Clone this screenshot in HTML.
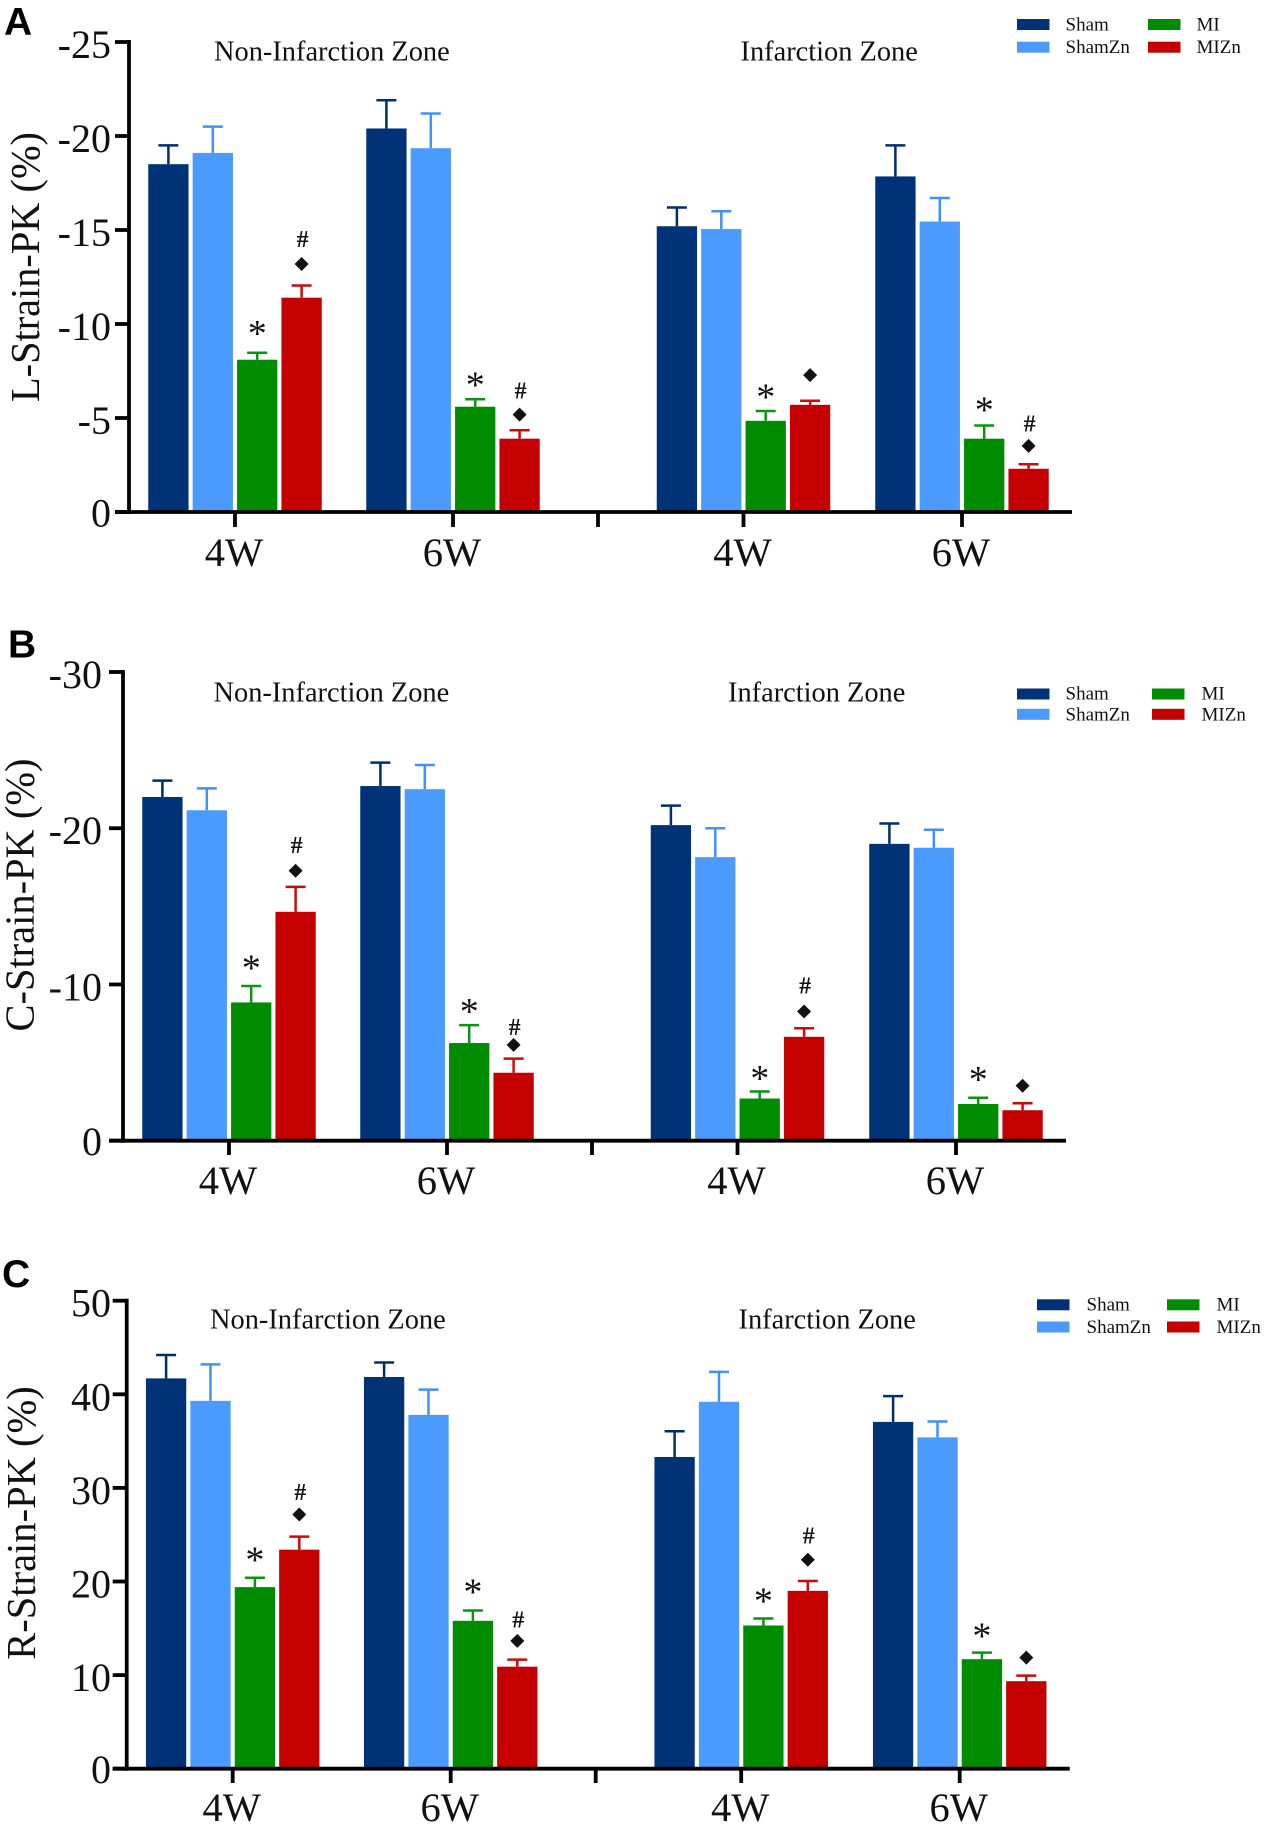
<!DOCTYPE html>
<html lang="en">
<head>
<meta charset="utf-8">
<title>Strain peak charts</title>
<style>
html,body{margin:0;padding:0;background:#fff;width:1265px;height:1829px;overflow:hidden}
svg{display:block}
text{font-family:"Liberation Serif",serif;fill:#111}
</style>
</head>
<body>
<svg id="figure" xmlns="http://www.w3.org/2000/svg" width="1265" height="1829" viewBox="0 0 1265 1829"></svg>
<script>
// Shared labels
const categories = ['4W', '6W', '4W', '6W'];
const seriesNames = ['Sham', 'ShamZn', 'MI', 'MIZn'];
const seriesColors = ['#003278', '#4b9bff', '#008c00', '#c40000'];
const errorColors = ['#002c70', '#3f92f8', '#0a9410', '#cc0a0a'];
const zoneNames = ['Non-Infarction Zone', 'Infarction Zone'];

// Panel A: L-Strain-PK
const aTicks = [0, -5, -10, -15, -20, -25];
const aSham = [-18.5, -20.4, -15.2, -17.85];
const aShamErr = [-19.5, -21.9, -16.2, -19.5];
const aShamZn = [-19.1, -19.35, -15.05, -15.45];
const aShamZnErr = [-20.5, -21.2, -16.0, -16.7];
const aMI = [-8.1, -5.6, -4.85, -3.9];
const aMIErr = [-8.47, -6.0, -5.37, -4.6];
const aMIZn = [-11.4, -3.9, -5.7, -2.3];
const aMIZnErr = [-12.05, -4.35, -5.92, -2.54];
const aStarGap = [1.22, 0.94, 0.94, 1.0];
const aDiamondGap = [1.14, 0.83, 1.36, 0.98];
const aHashGap = [2.4, 2.04, null, 2.1];

// Panel B: C-Strain-PK
const bTicks = [0, -10, -20, -30];
const bSham = [-22.0, -22.7, -20.2, -19.0];
const bShamErr = [-23.05, -24.2, -21.45, -20.3];
const bShamZn = [-21.15, -22.5, -18.15, -18.75];
const bShamZnErr = [-22.55, -24.05, -20.0, -19.9];
const bMI = [-8.85, -6.25, -2.7, -2.35];
const bMIErr = [-9.9, -7.4, -3.15, -2.75];
const bMIZn = [-14.65, -4.35, -6.65, -1.95];
const bMIZnErr = [-16.25, -5.25, -7.2, -2.4];
const bStarGap = [1.37, 1.1, 1.05, 1.39];
const bDiamondGap = [1.03, 0.88, 1.07, 1.12];
const bHashGap = [2.57, 1.93, 2.64, null];

// Panel C: R-Strain-PK
const cTicks = [0, 10, 20, 30, 40, 50];
const cSham = [41.7, 41.85, 33.3, 37.05];
const cShamErr = [44.2, 43.4, 36.05, 39.8];
const cShamZn = [39.3, 37.8, 39.2, 35.4];
const cShamZnErr = [43.2, 40.5, 42.4, 37.1];
const cMI = [19.4, 15.8, 15.3, 11.7];
const cMIErr = [20.4, 16.9, 16.05, 12.4];
const cMIZn = [23.4, 10.9, 19.0, 9.35];
const cMIZnErr = [24.8, 11.65, 20.05, 9.95];
const cStarGap = [2.28, 2.36, 2.24, 2.16];
const cDiamondGap = [2.36, 2.0, 2.28, 1.92];
const cHashGap = [4.59, 4.11, 4.71, null];

const NS = 'http://www.w3.org/2000/svg';
const svg = document.getElementById('figure');

function make(tag, attrs, parent, txt) {
  const el = document.createElementNS(NS, tag);
  for (const k in attrs) el.setAttribute(k, attrs[k]);
  if (txt !== undefined) el.textContent = txt;
  parent.appendChild(el);
  return el;
}

// Layout of a panel, relative to its y axis line
const groupOffsets = [106, 324, 614.5, 833];
const separatorOffset = 469;
const axisLength = 943;
const barWidth = 40.3;
const barPitch = 44.4;
const capWidth = 20;

const panels = [
  {
    id: 'a', letter: 'A', title: 'L-Strain-PK (%)', ticks: aTicks, domainEnd: -25,
    values: [aSham, aShamZn, aMI, aMIZn], errors: [aShamErr, aShamZnErr, aMIErr, aMIZnErr],
    star: aStarGap, diamond: aDiamondGap, hash: aHashGap,
    spine: 129, top: 42, base: 512, tickLeft: 115, labelRight: 111, tickBottom: 527, xLabelY: 566,
    letterX: 4, letterY: 35, titleX: 39, titleMid: 267, titleLen: 270,
    zoneX: [214, 740.5], zoneY: 60.5,
    legendX: [1017, 1148], legendText: [1065.5, 1196.5], legendRows: [19, 41.7], legendBase: [30.6, 52.8]
  },
  {
    id: 'b', letter: 'B', title: 'C-Strain-PK (%)', ticks: bTicks, domainEnd: -30,
    values: [bSham, bShamZn, bMI, bMIZn], errors: [bShamErr, bShamZnErr, bMIErr, bMIZnErr],
    star: bStarGap, diamond: bDiamondGap, hash: bHashGap,
    spine: 123, top: 672, base: 1140.7, tickLeft: 109, labelRight: 102, tickBottom: 1155, xLabelY: 1194,
    letterX: 8, letterY: 657.5, titleX: 33.5, titleMid: 895, titleLen: 273,
    zoneX: [213.5, 728], zoneY: 701.5,
    legendX: [1017, 1152], legendText: [1065.5, 1201.5], legendRows: [688.5, 708.8], legendBase: [699.6, 720.3]
  },
  {
    id: 'c', letter: 'C', title: 'R-Strain-PK (%)', ticks: cTicks, domainEnd: 50,
    values: [cSham, cShamZn, cMI, cMIZn], errors: [cShamErr, cShamZnErr, cMIErr, cMIZnErr],
    star: cStarGap, diamond: cDiamondGap, hash: cHashGap,
    spine: 126.7, top: 1300.7, base: 1768.7, tickLeft: 112.7, labelRight: 111, tickBottom: 1783, xLabelY: 1821,
    letterX: 2, letterY: 1287, titleX: 35, titleMid: 1523, titleLen: 273.5,
    zoneX: [210, 738.5], zoneY: 1328.6,
    legendX: [1037, 1167], legendText: [1086.5, 1216.5], legendRows: [1299.3, 1321.5], legendBase: [1310.6, 1332.8]
  }
];

function drawPanel(p) {
  const g = make('g', {}, svg);
  
  

  const yScale = v => p.base - (v / p.domainEnd) * (p.base - p.top);
  const xCenter = i => p.spine + groupOffsets[i];
  const barLeft = (i, s) => xCenter(i) + (s - 2) * barPitch + (barPitch - barWidth) / 2;
  const dir = Math.sign(p.domainEnd);

  // Panel letter
  const letter = make('text', {
    x: p.letterX, y: p.letterY,
    style: 'font-family:"Liberation Sans",sans-serif;font-weight:bold;font-size:39px;fill:#000'
  }, g, p.letter);
  
  

  // Y axis title
  const yTitle = make('text', {
    x: p.titleX, y: p.titleMid, 'text-anchor': 'middle', 'font-size': 41,
    textLength: p.titleLen, lengthAdjust: 'spacingAndGlyphs',
    transform: 'rotate(-90 ' + p.titleX + ' ' + p.titleMid + ')'
  }, g, p.title);
  
  

  // Zone headings
  zoneNames.forEach((name, z) => {
    const t = make('text', { x: p.zoneX[z], y: p.zoneY, 'font-size': 28.4 }, g, name);
    
    
  });

  // Bars and error bars
  p.values.forEach((vals, s) => {
    vals.forEach((v, i) => {
      const x = barLeft(i, s);
      const yTop = yScale(v);
      const yErr = yScale(p.errors[s][i]);
      const cx = x + barWidth / 2;

      const stem = make('line', { x1: cx, x2: cx, y1: yTop, y2: yErr, stroke: errorColors[s], 'stroke-width': 2.5 }, g);
      
      

      const cap = make('line', { x1: cx - capWidth / 2, x2: cx + capWidth / 2, y1: yErr, y2: yErr, stroke: errorColors[s], 'stroke-width': 2.5 }, g);
      
      

      const bar = make('rect', { x: x, y: yTop, width: barWidth, height: yScale(0) - yTop, fill: seriesColors[s] }, g);
      
      
    });
  });

  // Significance markers
  categories.forEach((c, i) => {
    const miX = barLeft(i, 2) + barWidth / 2;
    const znX = barLeft(i, 3) + barWidth / 2;

    const starY = yScale(p.errors[2][i] + dir * p.star[i]);
    const star = make('text', { x: miX, y: starY + 16, 'text-anchor': 'middle', 'font-size': 38 }, g, '*');
    
    

    const dY = yScale(p.errors[3][i] + dir * p.diamond[i]);
    const pts = [[znX, dY - 7], [znX + 7, dY], [znX, dY + 7], [znX - 7, dY]].map(q => q.join(',')).join(' ');
    const diamond = make('polygon', { points: pts, fill: '#111' }, g);
    
    

    if (p.hash[i] !== null) {
      const hY = yScale(p.errors[3][i] + dir * p.hash[i]);
      const hash = make('text', { x: znX + 1, y: hY + 6.5, 'text-anchor': 'middle', 'font-size': 24, 'font-weight': 'bold' }, g, '#');
      
      
    }
  });

  // Y axis
  const yAxis = make('line', { x1: p.spine, x2: p.spine, y1: p.top - 2, y2: p.base + 2, stroke: '#000', 'stroke-width': 3.8 }, g);
  
  

  p.ticks.forEach(v => {
    const y = yScale(v);
    const tick = make('line', { x1: p.tickLeft, x2: p.spine, y1: y, y2: y, stroke: '#000', 'stroke-width': 3.8 }, g);
    
    

    const label = make('text', { x: p.labelRight, y: y + (v === 0 ? 14.5 : 16), 'text-anchor': 'end', 'font-size': 40 }, g, String(v));
    
    
  });

  // X axis
  const xAxis = make('line', { x1: p.tickLeft, x2: p.spine + axisLength, y1: p.base, y2: p.base, stroke: '#000', 'stroke-width': 3.8 }, g);
  
  

  categories.forEach((c, i) => {
    const x = xCenter(i);
    const tick = make('line', { x1: x, x2: x, y1: p.base, y2: p.tickBottom, stroke: '#000', 'stroke-width': 3.8 }, g);
    
    

    const label = make('text', { x: x - 1, y: p.xLabelY, 'text-anchor': 'middle', 'font-size': 40.5 }, g, c);
    
    
  });

  const sep = make('line', {
    x1: p.spine + separatorOffset, x2: p.spine + separatorOffset,
    y1: p.base, y2: p.tickBottom, stroke: '#000', 'stroke-width': 3.8
  }, g);
  
  

  // Legend
  const legend = make('g', {}, g);
  
  
  seriesNames.forEach((name, s) => {
    const col = s < 2 ? 0 : 1;
    const row = s % 2;
    const swatch = make('rect', {
      x: p.legendX[col], y: p.legendRows[row], width: 32.5, height: 11, fill: seriesColors[s]
    }, legend);
    
    

    const label = make('text', { x: p.legendText[col], y: p.legendBase[row], 'font-size': 19 }, legend, name);
    
    
  });
}

panels.forEach(drawPanel);
</script>
</body>
</html>
